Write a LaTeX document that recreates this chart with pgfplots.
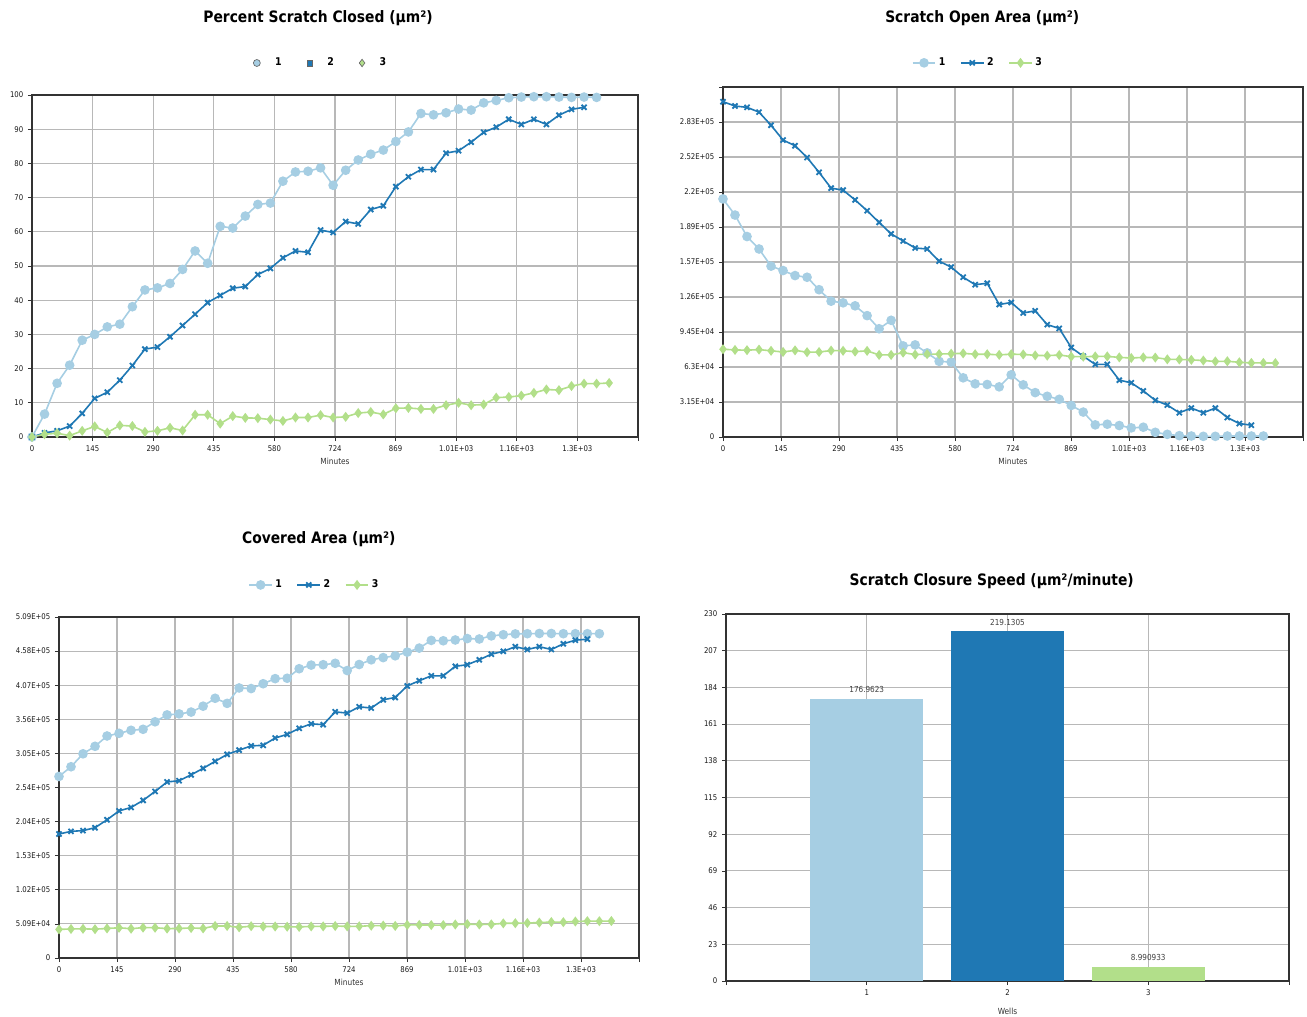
\documentclass[border=0pt]{standalone}
\usepackage{pgfplots}
\usepackage{pgfplotstable}
\pgfplotsset{compat=1.18}
\usepackage{fontspec}
\setmainfont{DejaVu Sans}[FakeStretch=0.88]

\definecolor{c1}{HTML}{A6CEE3}
\definecolor{c2}{HTML}{1F78B4}
\definecolor{c3}{HTML}{B2DF8A}
\definecolor{gridc}{HTML}{B8B8B8}
\definecolor{framec}{HTML}{333333}

\pgfplotstableread{
x p o c
0 0 214000 271000
30 6.7 199500 285500
60 15.7 180200 304800
90 21.0 169000 316000
120 28.3 153600 331400
150 30.0 149600 335400
180 32.2 145100 339900
210 33.0 143600 341400
240 38.1 132400 352600
270 43.0 122100 362900
300 43.6 120600 364400
330 44.9 117900 367100
360 49.0 109100 375900
390 54.4 97300 387700
420 50.8 104900 380100
450 61.6 81900 403100
480 61.1 82800 402200
510 64.6 75600 409400
540 68.0 68000 417000
570 68.4 67400 417600
600 74.8 53200 431800
630 77.5 47800 437200
660 77.7 47200 437800
690 78.7 45100 439900
720 73.6 55900 429100
750 78.0 46900 438100
780 81.0 39900 445100
810 82.7 36600 448400
840 83.9 33900 451100
870 86.4 28400 456600
900 89.2 22400 462600
930 94.6 10900 474100
960 94.2 11500 473500
990 94.8 10300 474700
1020 95.9 8200 476800
1050 95.6 8800 476200
1080 97.7 4200 480800
1110 98.4 2400 482600
1140 99.2 1200 483800
1170 99.4 900 484100
1200 99.5 600 484400
1230 99.5 600 484400
1260 99.4 900 484100
1290 99.3 900 484100
1320 99.4 900 484100
1350 99.3 900 484100
}\sA

\pgfplotstableread{
x p o c
0 0 301400 185100
30 1.2 297500 189000
60 1.8 296300 190200
90 3.2 292000 194500
120 6.9 280200 206300
150 11.3 266900 219600
180 13.1 261800 224700
210 16.6 251200 235300
240 20.9 237900 248600
270 25.7 223700 262800
300 26.3 221900 264600
330 29.3 213100 273400
360 32.6 203400 283100
390 35.9 192900 293600
420 39.3 182600 303900
450 41.4 176200 310300
480 43.5 169900 316600
510 44.0 169000 317500
540 47.5 158100 328400
570 49.3 152700 333800
600 52.4 143600 342900
630 54.4 136900 349600
660 54.0 138200 348300
690 60.5 119100 367400
720 59.8 120900 365600
750 63.0 111500 375000
780 62.3 113400 373100
810 66.5 101000 385500
840 67.6 97600 388900
870 73.2 80400 406100
900 76.1 72600 413900
930 78.2 65300 421200
960 78.2 65300 421200
990 83.0 51100 435400
1020 83.7 48700 437800
1050 86.2 41400 445100
1080 89.1 33000 453500
1110 90.6 28700 457800
1140 92.9 21800 464700
1170 91.4 26000 460500
1200 92.9 21800 464700
1230 91.4 26000 460500
1260 94.1 17500 469000
1290 95.8 12100 474400
1320 96.4 10600 475900
}\sB

\pgfplotstableread{
x p o c
0 0 78900 42700
30 0.8 78270 43330
60 1.1 78030 43570
90 0.4 78580 43020
120 1.8 77480 44120
150 3.1 76450 45150
180 1.3 77870 43730
210 3.4 76220 45380
240 3.2 76380 45220
270 1.5 77720 43880
300 1.8 77480 44120
330 2.7 76770 44830
360 1.9 77400 44200
390 6.5 73770 47830
420 6.5 73770 47830
450 3.9 75820 45780
480 6.1 74090 47510
510 5.6 74480 47120
540 5.5 74560 47040
570 5.1 74880 46720
600 4.7 75190 46410
630 5.7 74400 47200
660 5.7 74400 47200
690 6.4 73850 47750
720 5.7 74400 47200
750 5.9 74250 47350
780 7.0 73380 48220
810 7.3 73140 48460
840 6.6 73690 47910
870 8.4 72270 49330
900 8.5 72190 49410
930 8.2 72430 49170
960 8.2 72430 49170
990 9.3 71560 50040
1020 10.0 71010 50590
1050 9.3 71560 50040
1080 9.5 71400 50200
1110 11.5 69830 51770
1140 11.7 69670 51930
1170 12.1 69350 52250
1200 12.9 68720 52880
1230 13.9 67930 53670
1260 13.7 68090 53510
1290 14.9 67140 54460
1320 15.6 66590 55010
1350 15.6 66590 55010
1380 15.8 66430 55170
}\sC

\pgfplotsset{
  s1/.style={c1, line width=1.2pt, mark=*, mark size=3pt, mark options={fill=c1, draw=c1, solid}},
  s2/.style={c2, line width=1.2pt, mark=x, mark size=2.7pt, mark options={line width=1.4pt, solid}},
  s3/.style={c3, line width=1.2pt, mark=diamond*, mark size=2.8pt, mark options={fill=c3, draw=c3, solid}},
  base/.style={
    scale only axis, clip=false,
    axis line style={framec, line width=0.8pt},
    grid=major, major grid style={gridc, line width=0.8pt},
    tick align=outside, tick pos=left, major tick length=3pt,
    tick style={framec, line width=0.6pt},
    ticklabel style={font=\fontsize{5.9}{7}\selectfont, text=black!90},
    /pgf/number format/assume math mode=true,
    title style={font=\bfseries\fontsize{11.8}{13}\selectfont, anchor=center, yshift=-6.75pt},
    xlabel style={font=\fontsize{6.3}{7}\selectfont, text=black!80, at={(axis description cs:0.5,0)}, anchor=center},
    legend columns=3,
    legend style={draw=none, fill=none, anchor=center, font=\bfseries\fontsize{8}{9}\selectfont,
      /tikz/every even column/.append style={column sep=9pt}},
  },
  timex/.style={
    xmin=0, xmax=1449,
    xtick={0,144.9,289.8,434.7,579.6,724.5,869.4,1014.3,1159.2,1304.1,1449},
    xticklabels={0,145,290,435,580,724,869,1.01E+03,1.16E+03,1.3E+03,},
    xlabel={Minutes},
  },
}

\begin{document}
\begin{tikzpicture}
\path[use as bounding box] (0,0) rectangle (980.25pt,-762.75pt);

% Top left
\begin{axis}[base, timex,
  at={(24pt,-71.25pt)}, anchor=north west,
  width=454.5pt, height=256.5pt,
  ymin=0, ymax=100, ytick={0,10,...,100},
  title={Percent Scratch Closed (μm²)},
  title style={at={(0.472,1.228)}},
  xlabel style={yshift=-18pt},
  legend style={at={(0.477,1.0936)},
    /tikz/every odd column/.append style={column sep=9pt},
    /tikz/every even column/.append style={column sep=17pt}},
  legend image code/.code={\draw[#1] plot coordinates {(0.3cm,0cm)};},
]
\addlegendimage{only marks, mark=*, mark size=2.6pt, mark options={fill=c1, draw=black!60, line width=0.5pt}}
\addlegendentry{1}
\addlegendimage{only marks, mark=square*, mark size=2.2pt, mark options={fill=c2, draw=black!60, line width=0.5pt}}
\addlegendentry{2}
\addlegendimage{only marks, mark=diamond*, mark size=2.8pt, mark options={fill=c3, draw=black!60, line width=0.5pt}}
\addlegendentry{3}
\addplot[s1, forget plot] table[x=x, y=p] {\sA};
\addplot[s2, forget plot] table[x=x, y=p] {\sB};
\addplot[s3, forget plot] table[x=x, y=p] {\sC};
\end{axis}

% Top right
\begin{axis}[base, timex,
  at={(542.25pt,-65.25pt)}, anchor=north west,
  width=435pt, height=262.5pt,
  ymin=0, ymax=314600,
  ytick={0,31460,62920,94380,125840,157300,188760,220220,251680,283140,314600},
  yticklabels={0,3.15E+04,6.3E+04,9.45E+04,1.26E+05,1.57E+05,1.89E+05,2.2E+05,2.52E+05,2.83E+05,},
  scaled y ticks=false,
  title={Scratch Open Area (μm²)},
  title style={at={(0.447,1.2)}},
  xlabel style={yshift=-18pt},
  legend style={at={(0.44,1.069)}},
]
\addplot[s1] table[x=x, y=o] {\sA}; \addlegendentry{1}
\addplot[s2] table[x=x, y=o] {\sB}; \addlegendentry{2}
\addplot[s3] table[x=x, y=o] {\sC}; \addlegendentry{3}
\end{axis}

% Bottom left
\begin{axis}[base, timex,
  at={(44.25pt,-462.75pt)}, anchor=north west,
  width=435pt, height=255.75pt,
  ymin=0, ymax=509000,
  ytick={0,50900,101800,152700,203600,254500,305400,356300,407200,458100,509000},
  yticklabels={0,5.09E+04,1.02E+05,1.53E+05,2.04E+05,2.54E+05,3.05E+05,3.56E+05,4.07E+05,4.58E+05,5.09E+05},
  scaled y ticks=false,
  title={Covered Area (μm²)},
  title style={at={(0.448,1.232)}},
  xlabel style={yshift=-18.5pt},
  legend style={at={(0.441,1.094)}},
]
\addplot[s1] table[x=x, y=c] {\sA}; \addlegendentry{1}
\addplot[s2] table[x=x, y=c] {\sB}; \addlegendentry{2}
\addplot[s3] table[x=x, y=c] {\sC}; \addlegendentry{3}
\end{axis}

% Bottom right
\begin{axis}[base,
  at={(544.5pt,-460.5pt)}, anchor=north west,
  width=422.25pt, height=275.25pt,
  xmin=0, xmax=4, xtick={0,1,2,3,4}, xticklabels={,1,2,3,},
  ymin=0, ymax=230, ytick={0,23,46,69,92,115,138,161,184,207,230},
  xlabel={Wells},
  xlabel style={yshift=-22.5pt},
  title={Scratch Closure Speed (μm²/minute)},
  title style={at={(0.472,1.093)}},
  nodes near coords style={font=\fontsize{6.2}{7}\selectfont, text=black!75, anchor=south, yshift=1pt},
  point meta=explicit symbolic,
]
\addplot[ybar, bar width=0.8, bar shift=0pt, fill=c1, draw=none, nodes near coords] coordinates {(1,176.9623) [176.9623]};
\addplot[ybar, bar width=0.8, bar shift=0pt, fill=c2, draw=none, nodes near coords] coordinates {(2,219.1305) [219.1305]};
\addplot[ybar, bar width=0.8, bar shift=0pt, fill=c3, draw=none, nodes near coords] coordinates {(3,8.990933) [8.990933]};
\end{axis}
\end{tikzpicture}
\end{document}
